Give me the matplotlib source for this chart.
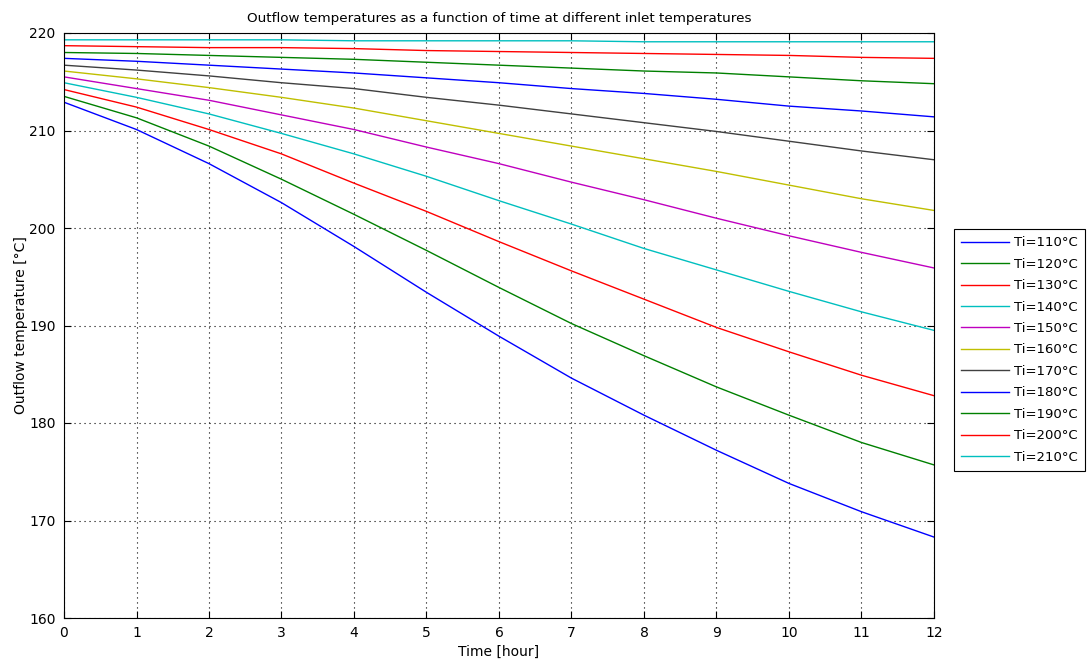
import matplotlib
matplotlib.use("Agg")
import matplotlib.pyplot as plt

plt.rcParams['font.family'] = ['DejaVu Sans']

hours = [0, 1, 2, 3, 4, 5, 6, 7, 8, 9, 10, 11, 12]

inlet_temps = [110, 120, 130, 140, 150, 160, 170, 180, 190, 200, 210]

t_110 = [212.9, 210.1, 206.6, 202.6, 198.1, 193.4, 188.9, 184.6, 180.8, 177.2, 173.8, 170.9, 168.3]
t_120 = [213.5, 211.3, 208.4, 205.0, 201.4, 197.7, 193.9, 190.2, 186.9, 183.7, 180.8, 178.0, 175.7]
t_130 = [214.2, 212.4, 210.1, 207.6, 204.6, 201.7, 198.6, 195.6, 192.7, 189.8, 187.3, 184.9, 182.8]
t_140 = [214.9, 213.4, 211.7, 209.7, 207.6, 205.3, 202.8, 200.4, 197.9, 195.7, 193.5, 191.4, 189.5]
t_150 = [215.5, 214.3, 213.1, 211.6, 210.1, 208.3, 206.6, 204.7, 202.9, 201.0, 199.2, 197.5, 195.9]
t_160 = [216.1, 215.3, 214.4, 213.4, 212.3, 211.0, 209.7, 208.4, 207.1, 205.8, 204.4, 203.0, 201.8]
t_170 = [216.7, 216.2, 215.6, 214.9, 214.3, 213.4, 212.6, 211.7, 210.8, 209.9, 208.9, 207.9, 207.0]
t_180 = [217.4, 217.1, 216.7, 216.3, 215.9, 215.4, 214.9, 214.3, 213.8, 213.2, 212.5, 212.0, 211.4]
t_190 = [218.0, 217.9, 217.7, 217.5, 217.3, 217.0, 216.7, 216.4, 216.1, 215.9, 215.5, 215.1, 214.8]
t_200 = [218.7, 218.6, 218.5, 218.5, 218.4, 218.2, 218.1, 218.0, 217.9, 217.8, 217.7, 217.5, 217.4]
t_210 = [219.3, 219.3, 219.3, 219.3, 219.2, 219.2, 219.2, 219.2, 219.1, 219.1, 219.1, 219.1, 219.1]

series = [t_110, t_120, t_130, t_140, t_150, t_160, t_170, t_180, t_190, t_200, t_210]

# MATLAB-style colour cycle
cycle = [(0, 0, 1), (0, 0.5, 0), (1, 0, 0), (0, 0.75, 0.75),
         (0.75, 0, 0.75), (0.75, 0.75, 0), (0.25, 0.25, 0.25)]

W, H = 1089, 666
fig = plt.figure(figsize=(W / 100, H / 100), dpi=100)
ax = fig.add_axes([64 / W, 1 - 618 / H, (934 - 64) / W, (618 - 33) / H])

for i, (ti, vals) in enumerate(zip(inlet_temps, series)):
    ax.plot(hours, vals, color=cycle[i % len(cycle)], lw=1.0,
            label=f"Ti={ti}°C")

ax.set_xlim(0, 12)
ax.set_ylim(160, 220)
ax.set_xticks(range(0, 13))
ax.set_yticks(range(160, 221, 10))
ax.grid(True, color='black', linestyle=(0, (1, 3.5)), linewidth=0.8)
ax.tick_params(direction='in', length=5, top=True, right=True,
               labelsize=10, width=0.8, pad=6)
for s in ax.spines.values():
    s.set_linewidth(0.8)

ax.set_xlabel("Time [hour]", fontsize=10, labelpad=3)
ax.set_ylabel("Outflow temperature [°C]", fontsize=10, labelpad=1)
ax.set_title("Outflow temperatures as a function of time at different inlet temperatures",
             fontsize=9.7, pad=8)

leg = ax.legend(loc='upper left', bbox_to_anchor=(954 / W, 1 - 229 / H),
                bbox_transform=fig.transFigure, fontsize=9.5, handlelength=3.6,
                labelspacing=0.64, borderaxespad=0, fancybox=False,
                framealpha=1, edgecolor='black', borderpad=0.55,
                handletextpad=0.4)
leg.get_frame().set_linewidth(0.8)

fig.savefig("out.png", dpi=100)
